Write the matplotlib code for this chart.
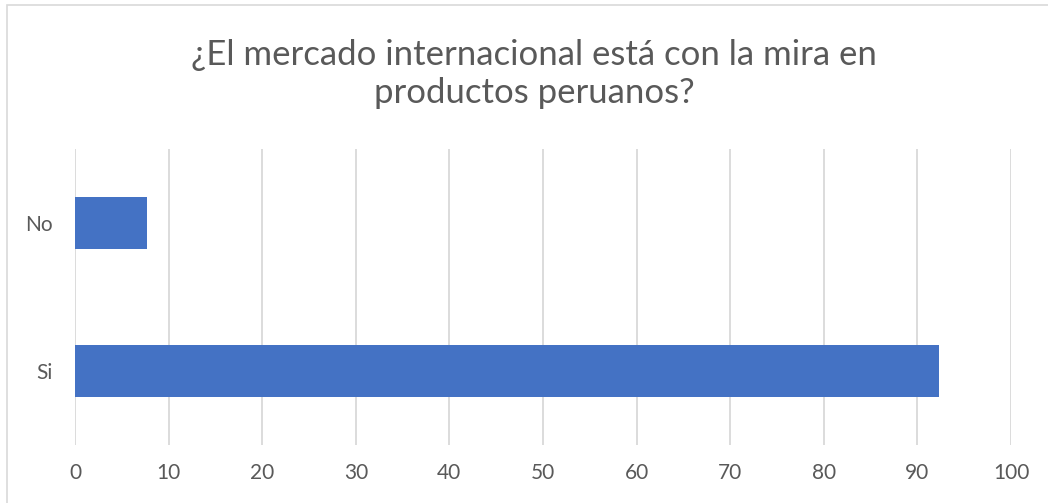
import matplotlib.pyplot as plt
from matplotlib.patches import Rectangle

# survey answers, share of respondents (%)
categories = ["Si", "No"]
values = [92.31, 7.69]
x_ticks = [0, 10, 20, 30, 40, 50, 60, 70, 80, 90, 100]
title = "¿El mercado internacional está con la mira en\nproductos peruanos?"

plt.rcParams['font.family'] = ['Lato', 'DejaVu Sans']
text_color = '#595959'
grid_color = '#d9d9d9'
bar_color = '#4472c4'

W, H = 1048, 503
fig = plt.figure(figsize=(W / 100, H / 100), dpi=100)
ax = fig.add_axes([75 / W, 1 - 445 / H, (1011 - 75) / W, (445 - 149) / H])

ax.barh(range(len(categories)), values, height=0.35, color=bar_color, zorder=3)
ax.set_ylim(-0.5, len(categories) - 0.5)
ax.set_xlim(0, 100)
ax.set_xticks(x_ticks)
ax.set_yticks(range(len(categories)))
ax.set_yticklabels(categories)

ax.grid(axis='x', color=grid_color, lw=1.3, zorder=0)
for s in ax.spines.values():
    s.set_visible(False)
ax.tick_params(axis='both', length=0, labelsize=15, colors=text_color)
ax.tick_params(axis='x', pad=13)
ax.tick_params(axis='y', pad=16)

fig.text(534 / W, 1 - 74 / H, title, ha='center', va='center', fontsize=25,
         color=text_color, linespacing=1.25)

# chart frame
fig.patches.append(Rectangle((7 / W, -0.05), 1.1, 1 - 5 / H + 0.05,
                             transform=fig.transFigure, fill=False,
                             edgecolor=grid_color, lw=1.2))

fig.savefig("out.png", dpi=100)
